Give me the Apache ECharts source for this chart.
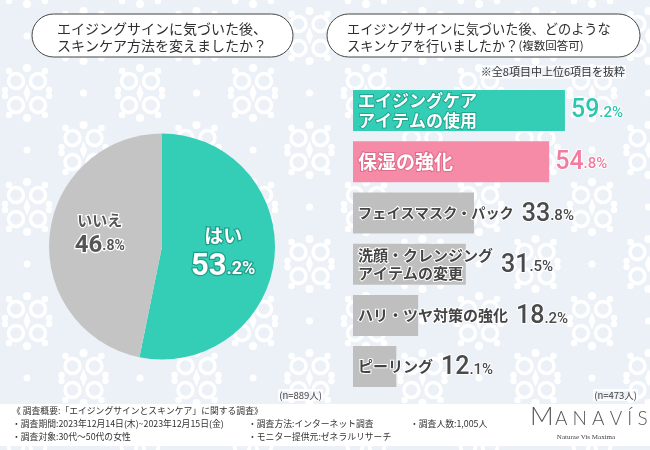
<!DOCTYPE html>
<html><head><meta charset="utf-8">
<script src="https://cdn.jsdelivr.net/npm/echarts@6/dist/echarts.min.js"></script>
<style>html,body{margin:0;padding:0;background:#ECF1F8}#c{width:650px;height:450px}</style>
</head><body><div id="c"></div>
<script>
var pieNames = ['はい', 'いいえ'];
var pieValues = [53.2, 46.8];
var barCats = ['エイジングケア\nアイテムの使用', '保湿の強化', 'フェイスマスク・パック', '洗顔・クレンジング\nアイテムの変更', 'ハリ・ツヤ対策の強化', 'ピーリング'];
var barValues = [59.2, 54.8, 33.8, 31.5, 18.2, 12.1];
var leftTitle = ['エイジングサインに気づいた後、', 'スキンケア方法を変えましたか？'];
var rightTitle = ['エイジングサインに気づいた後、どのような', 'スキンケアを行いましたか？'];
var rightTitleSub = '(複数回答可)';
var note = '※全8項目中上位6項目を抜粋';
var nLeft = '(n=889人)';
var nRight = '(n=473人)';
var footer = [
  ['《 調査概要:「エイジングサインとスキンケア」に関する調査》', '', ''],
  ['・調査期間:2023年12月14日(木)~2023年12月15日(金)', '・調査方法:インターネット調査', '・調査人数:1,005人'],
  ['・調査対象:30代～50代の女性', '・モニター提供元:ゼネラルリサーチ', '']
];

var JP = '"Noto Sans CJK JP", sans-serif';
var NUM = '"Roboto", sans-serif';
var TEAL = '#34CEB6', PINK = '#F68BA7', GRAY = '#BFBFBF';
var barColors = [TEAL, PINK, GRAY, GRAY, GRAY, GRAY];
var valColors = ['#2FC6AE', '#F27C9C', '#4A4A4A', '#4A4A4A', '#4A4A4A', '#4A4A4A'];
var nameSizes = [17, 19, 14.2, 15, 15, 15];

// decorative damask background tile
var tile = document.createElement('canvas');
tile.width = 113; tile.height = 114;
(function () {
  var g = tile.getContext('2d');
  g.fillStyle = '#ECF1F8'; g.fillRect(0, 0, 113, 114);
  g.fillStyle = '#fff'; g.strokeStyle = '#fff'; g.lineCap = 'round';
  function motif(cx, cy) {
    g.lineWidth = 3.5;
    [[-1, -1], [1, -1], [-1, 1], [1, 1]].forEach(function (s) {
      var ax = cx + s[0] * 11, ay = cy + s[1] * 12;
      g.beginPath();
      g.arc(ax, ay, 7.5, 0, Math.PI * 2);
      g.stroke();
      g.beginPath(); g.arc(ax + s[0] * 7, ay + s[1] * 10, 3.2, 0, Math.PI * 2); g.fill();
      g.beginPath(); g.arc(cx + s[0] * 22, cy + s[1] * 3, 3.2, 0, Math.PI * 2); g.fill();
    });
    g.beginPath(); g.moveTo(cx, cy - 9); g.lineTo(cx + 3.5, cy); g.lineTo(cx, cy + 9); g.lineTo(cx - 3.5, cy); g.closePath(); g.fill();
    g.beginPath(); g.arc(cx, cy - 25, 4, 0, Math.PI * 2); g.fill();
    g.beginPath(); g.arc(cx, cy + 25, 4, 0, Math.PI * 2); g.fill();
  }
  function dot(cx, cy) { g.beginPath(); g.arc(cx, cy, 3.5, 0, Math.PI * 2); g.fill(); }
  for (var ox = -113; ox <= 113; ox += 113) for (var oy = -114; oy <= 114; oy += 114) {
    motif(27 + ox, 93 + oy); motif(83.5 + ox, 36 + oy);
    dot(83.5 + ox, 93 + oy); dot(27 + ox, 36 + oy);
  }
})();

var cv = document.createElement('canvas').getContext('2d');
function textW(s, size) {
  cv.font = 'bold ' + size + 'px ' + JP;
  return Math.max.apply(null, s.split('\n').map(function (l) { return cv.measureText(l).width; }));
}
function splitNum(v) {
  var s = v.toFixed(1); var i = s.indexOf('.');
  return [s.slice(0, i), s.slice(i) + '%'];
}

var chart = echarts.init(document.getElementById('c'));

var nameData = barValues.map(function (v, i) {
  var light = i < 2;
  return {
    value: v,
    itemStyle: { color: barColors[i] },
    label: {
      show: true, position: 'insideLeft', distance: 5,
      formatter: barCats[i],
      fontFamily: JP, fontWeight: 'bold', fontSize: nameSizes[i], lineHeight: nameSizes[i] + 3,
      color: light ? '#fff' : '#444',
      textBorderColor: light ? (i === 0 ? '#22A690' : '#E06A8A') : '#fff',
      textBorderWidth: 2
    }
  };
});
var valData = barValues.map(function (v, i) {
  var p = splitNum(v);
  var lbl = {
    show: true,
    formatter: '{b|' + p[0] + '}{s|' + p[1] + '}',
    rich: {
      b: { fontFamily: NUM, fontWeight: 500, fontSize: 25, color: valColors[i], textBorderColor: '#fff', textBorderWidth: 2, verticalAlign: 'bottom', lineHeight: 26 },
      s: { fontFamily: NUM, fontWeight: 500, fontSize: 15, color: valColors[i], textBorderColor: '#fff', textBorderWidth: 2, verticalAlign: 'bottom', lineHeight: 17, padding: [0, 0, 3, 0] }
    }
  };
  if (i < 2) { lbl.position = 'right'; lbl.distance = 6; }
  else { lbl.position = 'insideLeft'; lbl.distance = 5; lbl.offset = [textW(barCats[i], nameSizes[i]) + 8, 1]; }
  return { value: v, label: lbl };
});

var graphics = [];
graphics.push({ type: 'rect', shape: { x: 0, y: 0, width: 650, height: 450 }, style: { fill: { image: tile, repeat: 'repeat' } }, z: -10, silent: true });
function pill(x, y, w, h) {
  graphics.push({ type: 'rect', shape: { x: x, y: y, width: w, height: h, r: h / 2 }, style: { fill: '#fff', stroke: '#444', lineWidth: 1 }, z: 1 });
}
pill(32, 14, 261, 43);
pill(327, 14, 313, 43);
function txt(x, y, s, size, align, color, extra) {
  var st = { text: s, x: x, y: y, fontSize: size, fontFamily: JP, fill: color || '#333', textAlign: align || 'left', textVerticalAlign: 'middle' };
  if (extra) for (var k in extra) st[k] = extra[k];
  graphics.push({ type: 'text', style: st, z: 2 });
}
txt(162, 29, leftTitle[0], 14, 'center', '#2e2e2e');
txt(162, 46, leftTitle[1], 14, 'center', '#2e2e2e');
txt(347, 29, rightTitle[0], 13.2, 'left', '#2e2e2e');
graphics.push({ type: 'text', z: 2, style: {
  x: 347, y: 46, textVerticalAlign: 'middle',
  rich: { a: { fontSize: 13.2, fontFamily: JP, fill: '#2e2e2e' }, b: { fontSize: 11.5, fontFamily: JP, fill: '#2e2e2e' } },
  text: '{a|' + rightTitle[1] + '}{b|' + rightTitleSub + '}' } });
txt(625, 72, note, 11, 'right', '#333', { textBorderColor: '#fff', textBorderWidth: 2 });
txt(322, 395, nLeft, 9.5, 'right', '#444', { textBorderColor: '#fff', textBorderWidth: 2 });
txt(637, 395, nRight, 9.5, 'right', '#444', { textBorderColor: '#fff', textBorderWidth: 2 });
graphics.push({ type: 'rect', shape: { x: 0, y: 404, width: 650, height: 42 }, style: { fill: '#fff' }, z: 0 });
var fx = [12, 248, 410], fy = [411, 424, 437];
footer.forEach(function (row, r) { row.forEach(function (s, c) { if (s) txt(fx[c], fy[r], s, 8.8, 'left', '#333'); }); });
graphics.push({ type: 'text', z: 2, style: { text: 'M', x: 530, y: 417, fontSize: 26, fontFamily: 'Lato, sans-serif', fontWeight: 300, fill: '#555', textVerticalAlign: 'middle' } });
graphics.push({ type: 'text', z: 2, style: { text: 'A N A V Í S', x: 555, y: 419, fontSize: 19, fontFamily: 'Lato, sans-serif', fontWeight: 300, fill: '#555', textVerticalAlign: 'middle' } });
txt(586, 437, 'Naturae Vis Maxima', 7, 'center', '#444', { fontFamily: '"Liberation Serif", serif' });

chart.setOption({
  backgroundColor: '#ECF1F8',
  animation: false,
  graphic: graphics,
  grid: { left: 353, top: 85, width: 286.4, height: 307.2 },
  xAxis: { type: 'value', min: 0, max: 80, show: false },
  yAxis: { type: 'category', data: barCats, inverse: true, show: false },
  series: [
    {
      type: 'pie', center: [162, 246.5], radius: 113, startAngle: 90, clockwise: true,
      label: { position: 'inside' }, labelLine: { show: false },
      data: pieValues.map(function (v, i) {
        var p = splitNum(v), teal = i === 0;
        var fc = teal ? '#fff' : '#555', bc = teal ? '#1F9E8A' : '#fff';
        return {
          name: pieNames[i], value: v,
          itemStyle: { color: teal ? TEAL : '#C4C4C4' },
          label: {
            show: true, position: 'inside', offset: teal ? [2, -1] : [-3, -8],
            formatter: '{n|' + pieNames[i] + '}\n{b|' + p[0] + '}{s|' + p[1] + '}',
            rich: {
              n: { fontFamily: JP, fontWeight: 'bold', fontSize: teal ? 19 : 15, color: fc, textBorderColor: bc, textBorderWidth: 2.5, lineHeight: teal ? 30 : 25, align: 'center' },
              b: { fontFamily: NUM, fontWeight: 'bold', fontSize: teal ? 31 : 24, color: fc, textBorderColor: bc, textBorderWidth: 2.5, lineHeight: teal ? 32 : 25, verticalAlign: 'bottom' },
              s: { fontFamily: NUM, fontWeight: 'bold', fontSize: teal ? 18 : 14, color: fc, textBorderColor: bc, textBorderWidth: 2.5, lineHeight: teal ? 20 : 16, verticalAlign: 'bottom', padding: [0, 0, 4, 0] }
            }
          }
        };
      })
    },
    { type: 'bar', barWidth: 41, data: nameData, z: 2 },
    { type: 'bar', barWidth: 41, barGap: '-100%', data: valData, itemStyle: { color: 'rgba(0,0,0,0)' }, z: 3 }
  ]
});
</script></body></html>
